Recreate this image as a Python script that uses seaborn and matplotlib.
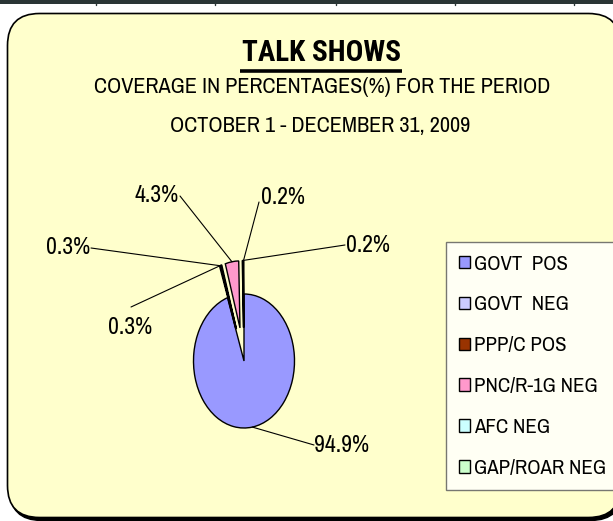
import numpy as np
import seaborn as sns
import matplotlib.pyplot as plt
from matplotlib.patches import FancyBboxPatch, Rectangle

# data
categories = ["GOVT  POS", "GOVT  NEG", "PPP/C POS", "PNC/R-1G NEG", "AFC NEG", "GAP/ROAR NEG"]
shares = [94.9, 0.3, 0.3, 4.3, 0.2, 0.2]
label_texts = ["94.9%", "0.3%", "0.3%", "4.3%", "0.2%", "0.2%"]
colors = ["#9999FF", "#CCCCFF", "#993300", "#FF99CC", "#CCFFFF", "#CCFFCC"]

sns.set_theme(style="white")
plt.rcParams['font.family'] = ['Archivo Narrow', 'Liberation Sans', 'DejaVu Sans']
plt.rcParams['text.color'] = 'black'
bold_family = ['Roboto Condensed', 'Asap Condensed', 'Liberation Sans']

W, H = 613, 521
fig = plt.figure(figsize=(W / 100, H / 100), dpi=100)
fig.patch.set_facecolor("white")

# background axes in pixel coords
bg = fig.add_axes([0, 0, 1, 1], zorder=0)
bg.set_xlim(0, W)
bg.set_ylim(H, 0)
bg.axis("off")

# table remnant at top
bg.add_patch(Rectangle((0, 0), W, 3.5, color="#2a3535", lw=0))
for xd in [96, 215, 336, 455, 574]:
    bg.plot([xd, xd], [0, 5], color="#2a3535", lw=1)

# rounded frame with shadow
bg.add_patch(FancyBboxPatch((9.5, 15.5), 613, 505, boxstyle="round,pad=0,rounding_size=32",
                            fc="black", ec="black", lw=1))
bg.add_patch(FancyBboxPatch((7.5, 13.5), 613, 504, boxstyle="round,pad=0,rounding_size=32",
                            fc="#FFFFCC", ec="black", lw=1.2))

# titles
bg.text(321, 53, "TALK SHOWS", ha="center", va="center", fontsize=21, fontweight="bold",
        family=bold_family)
bg.plot([240, 402], [70.5, 70.5], color="black", lw=2.6, solid_capstyle="butt")
bg.text(322, 87, "COVERAGE IN PERCENTAGES(%) FOR THE PERIOD", ha="center", va="center", fontsize=16)
bg.text(320, 126, "OCTOBER 1 - DECEMBER 31, 2009", ha="center", va="center", fontsize=16)

# pie axes mapped so the unit pie lands at pixel centre (244, 361), radii 50.5 x 67
cx, cy, rx, ry = 244, 361, 50.5, 67
ax = fig.add_axes([0, 0, 1, 1], zorder=1)
ax.patch.set_alpha(0)
explode = [0] + [0.5] * 5
wedges, _ = ax.pie(shares, colors=colors, startangle=90, counterclock=False, explode=explode,
                   wedgeprops=dict(edgecolor="black", linewidth=1))
ax.set_aspect("auto")
ax.set_xlim(-cx / rx, (W - cx) / rx)
ax.set_ylim((cy - H) / ry, cy / ry)
ax.axis("off")

# label positions (pixels, text centre) and leader anchors
label_pos = [(342, 445), (68, 248), (130, 327), (157, 195), (368, 246), (283, 198)]
anchor_pos = [(314, 445), (91, 248), (131, 307), (180, 196), (345, 245), (259, 202)]

for w, txt, (tx, ty), (axp, ayp) in zip(wedges, label_texts, label_pos, anchor_pos):
    ang = np.deg2rad((w.theta1 + w.theta2) / 2)
    px = w.center[0] + w.r * np.cos(ang)
    py = w.center[1] + w.r * np.sin(ang)
    ax.annotate("", xy=(px, py), xytext=(axp, H - ayp), textcoords="figure pixels",
                arrowprops=dict(arrowstyle="-", color="black", lw=0.8, shrinkA=0, shrinkB=0))
    bg.text(tx, ty, txt, ha="center", va="center", fontsize=17)

# legend
leg = ax.legend(wedges, categories, loc="upper left", bbox_to_anchor=(446 / W, 1 - 242 / H),
                bbox_transform=fig.transFigure, frameon=True, fancybox=False, edgecolor="#555555",
                fontsize=15, handlelength=0.55, handleheight=0.55, handletextpad=0.2,
                labelspacing=1.05, borderpad=0.6, borderaxespad=0, labelcolor="black")
leg.get_frame().set_linewidth(1)

fig.savefig("out.png", dpi=100)
